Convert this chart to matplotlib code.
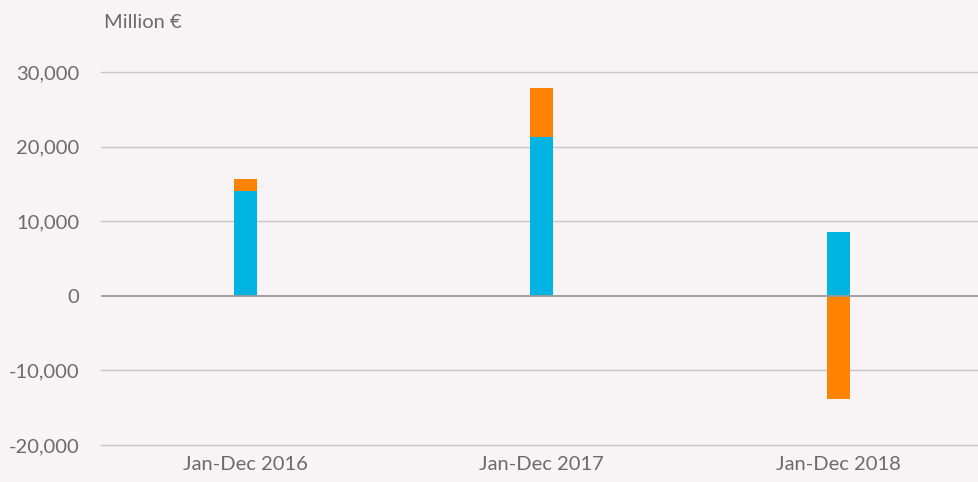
import matplotlib
matplotlib.use("Agg")
import matplotlib.pyplot as plt
from matplotlib.ticker import FuncFormatter

# Annual figures, million euro
periods = ["Jan-Dec 2016", "Jan-Dec 2017", "Jan-Dec 2018"]
blue_values = [14000, 21300, 8600]
orange_values = [1700, 6600, -13900]
y_ticks = [-20000, -10000, 0, 10000, 20000, 30000]

BG = "#f8f4f5"
BLUE = "#00b4e1"
ORANGE = "#ff8300"
TEXT = "#6b6b6b"

plt.rcParams["font.family"] = ["Lato", "DejaVu Sans"]

fig = plt.figure(figsize=(9.79, 4.82), dpi=100, facecolor=BG)
W, H = 979, 482
ax = fig.add_axes([101 / W, 1 - 445 / H, 1 - 101 / W, (445 - 72) / H], facecolor=BG)

x = list(range(len(periods)))
width = 0.078

# Stack orange on top of blue when both are positive, below zero otherwise
orange_base = [b if o >= 0 else 0 for b, o in zip(blue_values, orange_values)]
ax.bar(x, blue_values, width=width, color=BLUE, zorder=3)
ax.bar(x, orange_values, width=width, bottom=orange_base, color=ORANGE, zorder=3)

ax.set_ylim(-20000, 30000)
ax.set_xlim(-0.486, 2.475)
ax.set_yticks(y_ticks)
ax.yaxis.set_major_formatter(FuncFormatter(lambda v, p: f"{int(v):,}"))
ax.set_xticks(x)
ax.set_xticklabels(periods)

for v in y_ticks:
    if v == 0:
        ax.axhline(v, color="#9a9a9a", lw=1.3, zorder=4)
    else:
        ax.axhline(v, color="#c9c6c7", lw=1.0, zorder=1, clip_on=False)

for s in ax.spines.values():
    s.set_visible(False)
ax.tick_params(axis="both", length=0, labelsize=14.5, colors=TEXT)
ax.tick_params(axis="y", pad=15.5)
ax.tick_params(axis="x", pad=8)

fig.text(104 / W, 1 - 22 / H, "Million €", fontsize=14.5, color=TEXT, va="center", ha="left")

fig.savefig("out.png", dpi=100, facecolor=BG)
